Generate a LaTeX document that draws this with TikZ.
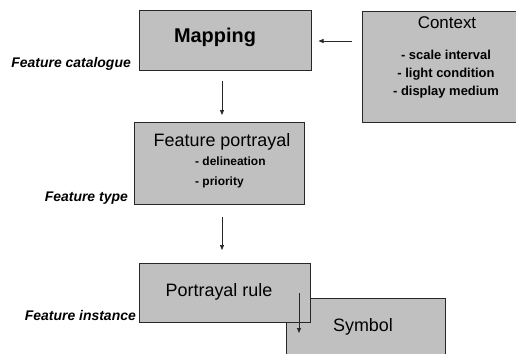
\documentclass[tikz,border=0pt]{standalone}
\usepackage{fontspec}
\setmainfont{Liberation Sans}
\usetikzlibrary{arrows.meta}
\definecolor{boxgray}{RGB}{192,192,192}
\definecolor{edgegray}{RGB}{40,40,40}
\begin{document}
\begin{tikzpicture}[x=1bp,y=-1bp,
  box/.style={draw=edgegray, line width=1bp, fill=boxgray, inner sep=0pt},
  arr/.style={-{Triangle[length=5bp,width=4bp]}, line width=0.8bp, draw=edgegray},
  lbl/.style={font=\fontsize{14}{16}\selectfont\bfseries\itshape, inner sep=0pt, anchor=east},
  big/.style={font=\fontsize{18}{20}\selectfont, inner sep=0pt},
  items/.style={font=\fontsize{13}{18}\selectfont\bfseries, inner sep=0pt}]
\useasboundingbox (0,0) rectangle (516,353);
\clip (0,0) rectangle (516,353);
\fill[white] (0,0) rectangle (516,353);

% boxes
\node[box, minimum width=172bp, minimum height=60bp] (map) at (225,40) {};
\node[box, minimum width=155bp, minimum height=111bp] (ctx) at (440,66.5) {};
\node[box, minimum width=170bp, minimum height=82bp] (fp) at (219,163) {};
\node[box, minimum width=159bp, minimum height=70bp] (sym) at (365.5,333) {};
\node[box, minimum width=171bp, minimum height=59bp] (pr) at (224.5,292.5) {};

% box texts
\node[font=\fontsize{20}{22}\selectfont\bfseries, inner sep=0pt] (maptxt) at (215,37) {Mapping};
\node[font=\fontsize{17}{20}\selectfont, inner sep=0pt] (ctxtxt) at (447,23) {Context};
\node[items, align=center, anchor=north] (ctxitems) at (446,50) {- scale interval\\- light condition\\- display medium};
\node[big] (fptxt) at (222,142) {Feature portrayal};
\node[items, font=\fontsize{12}{20}\selectfont\bfseries, align=left, anchor=north west] (fpitems) at (195,157) {- delineation\\- priority};
\node[big] (prtxt) at (219,292) {Portrayal rule};
\node[big] (symtxt) at (363,327) {Symbol};

% side labels
\node[lbl] (fcat) at (131,64) {Feature catalogue};
\node[lbl] (ftype) at (128,198) {Feature type};
\node[lbl] (finst) at (136,316) {Feature instance};

% connectors
\draw[arr] ([yshift=25.5bp]ctx.west) ++(-10,0) coordinate (ca) (ca) -- ([xshift=7bp]ca -| map.east);
\draw[arr] ([xshift=-3bp]map.south) ++(0,10) coordinate (mb) (mb) -- (mb |- 0,115);
\draw[arr] ([xshift=3bp]fp.south) ++(0,12) coordinate (fb) (fb) -- (fb |- 0,250);
\coordinate (d1) at (299,293);
\coordinate (d2) at (299,333);
\draw[arr] (d1) -- (d2);
\end{tikzpicture}
\end{document}
